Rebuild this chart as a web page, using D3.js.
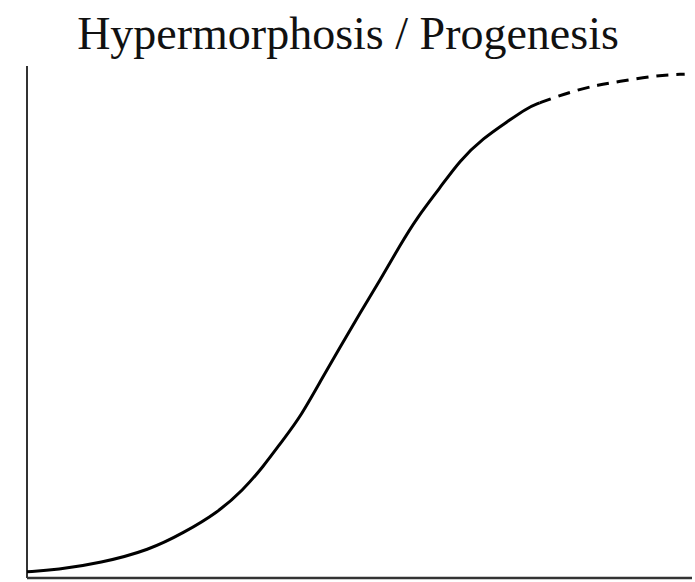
<!DOCTYPE html>
<html><head><meta charset="utf-8">
<script src="https://cdn.jsdelivr.net/npm/d3@7"></script>
<style>body{margin:0;background:#fff}svg{display:block}</style>
</head><body>
<script>
const title = "Hypermorphosis / Progenesis";
// solid growth curve (age %, size %)
const solidX = [0, 4.5, 11.0, 18.5, 23.5, 28.6, 32.5, 35.5, 38.5, 41.1, 44.5, 47.1, 50.1, 53.1, 56.1, 58.6, 62.1, 65.1, 68.6, 72.2, 75.2, 77.1];
const solidY = [1.2, 1.6, 2.9, 5.5, 8.8, 12.7, 17.2, 21.7, 27.0, 31.4, 39.3, 45.1, 51.8, 58.2, 65.0, 70.3, 76.2, 81.6, 85.9, 89.1, 91.8, 92.8];
// dashed extension
const dashX = [77.1, 79.4, 82.7, 85.9, 88.7, 94.7, 98.9];
const dashY = [92.8, 93.9, 95.3, 96.3, 96.9, 98.2, 98.4];

const W = 695, H = 582;
const svg = d3.select("body").append("svg").attr("width", W).attr("height", H);
const x = d3.scaleLinear().domain([0, 100]).range([27, 692]);
const y = d3.scaleLinear().domain([0, 100]).range([578, 66]);

svg.append("text").attr("x", 348).attr("y", 49).attr("text-anchor", "middle")
  .attr("font-family", "Liberation Serif, Times New Roman, serif").attr("font-size", 46)
  .attr("fill", "#111").text(title);

svg.append("line").attr("x1", x(0)).attr("x2", x(0)).attr("y1", y(100)).attr("y2", y(0))
  .attr("stroke", "#333").attr("stroke-width", 2);
svg.append("line").attr("x1", x(0)).attr("x2", x(100)).attr("y1", y(0)).attr("y2", y(0))
  .attr("stroke", "#333").attr("stroke-width", 2.5);

const line = d3.line().x(d => x(d[0])).y(d => y(d[1])).curve(d3.curveBasis);
svg.append("path").datum(d3.zip(solidX, solidY)).attr("d", line)
  .attr("fill", "none").attr("stroke", "#000").attr("stroke-width", 3);
svg.append("path").datum(d3.zip(dashX, dashY)).attr("d", line)
  .attr("fill", "none").attr("stroke", "#000").attr("stroke-width", 3)
  .attr("stroke-dasharray", "12,8");
</script>
</body></html>
